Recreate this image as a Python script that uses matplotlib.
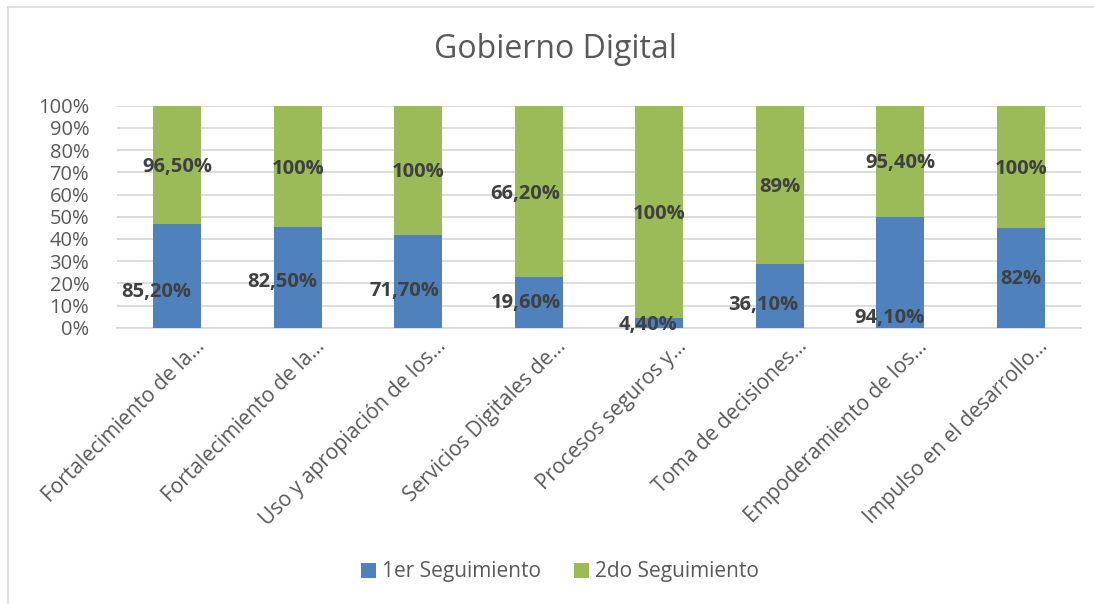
import matplotlib.pyplot as plt
import matplotlib.transforms as mtransforms
import numpy as np
from matplotlib.lines import Line2D

categories = ['Fortalecimiento de la...', 'Fortalecimiento de la...',
              'Uso y apropiación de los...', 'Servicios Digitales de...',
              'Procesos seguros y...', 'Toma de decisiones...',
              'Empoderamiento de los...', 'Impulso en el desarrollo...']
seg1 = [85.2, 82.5, 71.7, 19.6, 4.4, 36.1, 94.1, 82.0]
seg2 = [96.5, 100.0, 100.0, 66.2, 100.0, 89.0, 95.4, 100.0]
labels1 = ['85,20%', '82,50%', '71,70%', '19,60%', '4,40%', '36,10%', '94,10%', '82%']
labels2 = ['96,50%', '100%', '100%', '66,20%', '100%', '89%', '95,40%', '100%']

# where the data labels sit (manually moved in the original)
lab1_y = [0.159, 0.204, 0.167, 0.110, 0.012, 0.102, 0.042, 0.219]
lab1_dx = [-0.175, -0.125, -0.115, -0.11, -0.09, -0.135, -0.09, 0.0]
lab2_y = [0.725, 0.715, 0.700, 0.602, 0.512, 0.635, 0.743, 0.715]
lab2_dx = [0.0, 0.0, 0.0, -0.11, 0.0, 0.0, 0.0, 0.0]

blue = '#4F81BD'
green = '#9BBB59'
grey = '#595959'
dark = '#404040'

plt.rcParams['font.family'] = ['Open Sans', 'DejaVu Sans']

fig = plt.figure(figsize=(10.94, 6.04), dpi=100)
ax = fig.add_axes([117 / 1094, 1 - 327.7 / 604, 964 / 1094, 222 / 604])

s1 = np.array(seg1)
s2 = np.array(seg2)
tot = s1 + s2
f1 = s1 / tot
f2 = s2 / tot
x = np.arange(len(categories))

ax.bar(x, f1, width=0.4, color=blue, zorder=3, label='1er Seguimiento')
ax.bar(x, f2, bottom=f1, width=0.4, color=green, zorder=3, label='2do Seguimiento')

for i in range(len(x)):
    ax.text(x[i] + lab1_dx[i], lab1_y[i], labels1[i], ha='center', va='center',
            fontsize=14.5, fontweight='bold', color=dark, zorder=4)
    ax.text(x[i] + lab2_dx[i], lab2_y[i], labels2[i], ha='center', va='center',
            fontsize=14.5, fontweight='bold', color=dark, zorder=4)

ax.set_xlim(-0.5, len(x) - 0.5)
ax.set_ylim(0, 1)
ax.set_yticks(np.arange(0, 1.01, 0.1))
ax.set_yticklabels([f'{int(round(v * 100))}%' for v in np.arange(0, 1.01, 0.1)])
ax.yaxis.grid(True, color='#D9D9D9', linewidth=1.3, zorder=0)
ax.set_axisbelow(True)
for sp in ['top', 'right', 'left']:
    ax.spines[sp].set_visible(False)
ax.spines['bottom'].set_color('#D9D9D9')
ax.spines['bottom'].set_linewidth(1.3)
ax.tick_params(axis='y', length=0, labelsize=14.5, labelcolor=grey, pad=20)
ax.tick_params(axis='x', length=0, labelsize=15, labelcolor=grey, pad=6)
ax.set_xticks(x)
ax.set_xticklabels(categories, rotation=45, ha='right', rotation_mode='anchor')
shift = mtransforms.ScaledTranslation(17 / 100, 0, fig.dpi_scale_trans)
for t in ax.get_xticklabels():
    t.set_transform(t.get_transform() + shift)

fig.text(555 / 1094, 1 - 50 / 604, 'Gobierno Digital', ha='center', va='center',
         fontsize=23, color=grey)

handles, lbls = ax.get_legend_handles_labels()
fig.legend(handles, lbls, loc='center', bbox_to_anchor=(560 / 1094, 1 - 572 / 604),
           ncol=2, frameon=False, fontsize=15, labelcolor=grey,
           handlelength=0.7, handleheight=0.7, columnspacing=1.6, handletextpad=0.3)

# chart frame (only left and top edges visible)
fig.add_artist(Line2D([8 / 1094, 8 / 1094], [0, 1 - 7 / 604], color='#D9D9D9', lw=1.2))
fig.add_artist(Line2D([8 / 1094, 1], [1 - 7 / 604, 1 - 7 / 604], color='#D9D9D9', lw=1.2))

fig.savefig('out.png', dpi=100)
